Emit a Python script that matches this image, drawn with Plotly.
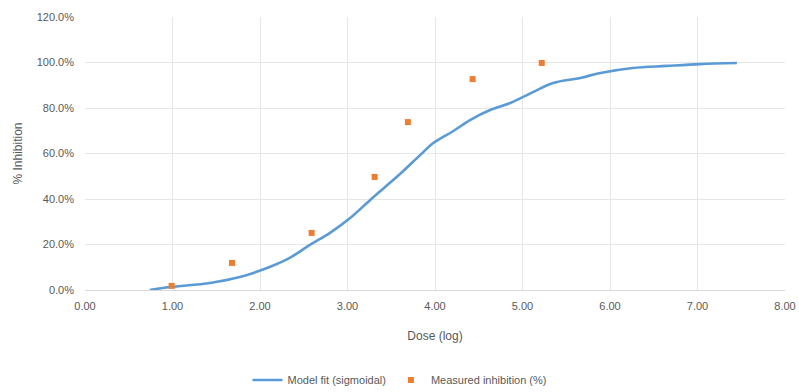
import plotly.graph_objects as go

# Fitted dose-response curve
fit_x = [0.74, 0.97, 1.43, 1.77, 2.11, 2.34, 2.57, 2.80, 3.03, 3.26, 3.43, 3.60, 3.83,
         3.98, 4.21, 4.40, 4.63, 4.86, 5.12, 5.35, 5.66, 5.89, 6.26, 6.65, 7.03, 7.45]
fit_y = [0.000, 0.013, 0.031, 0.057, 0.101, 0.141, 0.198, 0.251, 0.316, 0.396, 0.453, 0.510, 0.593,
         0.646, 0.699, 0.747, 0.791, 0.822, 0.870, 0.910, 0.932, 0.954, 0.976, 0.985, 0.993, 0.998]

# Measured responses
obs_x = [0.99, 1.68, 2.59, 3.31, 3.69, 4.43, 5.22]
obs_y = [0.018, 0.119, 0.251, 0.497, 0.738, 0.927, 0.998]

x_ticks = [0, 1, 2, 3, 4, 5, 6, 7, 8]
x_tick_labels = ["0.00", "1.00", "2.00", "3.00", "4.00", "5.00", "6.00", "7.00", "8.00"]
y_ticks = [0, 0.2, 0.4, 0.6, 0.8, 1.0, 1.2]

BLUE = "#5B9BD5"
ORANGE = "#ED7D31"
TEXT = "#595959"
GRID = "#e6e6e6"

fig = go.Figure()
fig.add_trace(go.Scatter(
    x=fit_x, y=fit_y, mode="lines", name="Model fit (sigmoidal)",
    line=dict(color=BLUE, width=2.6, shape="spline"),
))
fig.add_trace(go.Scatter(
    x=obs_x, y=obs_y, mode="markers", name="Measured inhibition (%)",
    marker=dict(color=ORANGE, symbol="square", size=6),
))

fig.update_layout(
    width=799, height=392,
    margin=dict(l=85, r=14, t=17, b=102, autoexpand=False),
    paper_bgcolor="white", plot_bgcolor="white",
    font=dict(family="Liberation Sans, Arial, sans-serif", size=11, color=TEXT),
    showlegend=True,
    legend=dict(orientation="h", xref="container", x=0.5, xanchor="center",
                yref="container", y=(392 - 380) / 392, yanchor="middle",
                itemwidth=30, font=dict(size=11, color=TEXT)),
)
fig.update_xaxes(
    range=[0, 8], tickvals=x_ticks, ticktext=x_tick_labels,
    showgrid=True, gridcolor=GRID, gridwidth=1,
    zeroline=False, showline=True, linecolor="#d9d9d9",
    ticks="", ticklabelstandoff=6, automargin=False,
    title=dict(text="Dose (log)", standoff=20, font=dict(size=12, color=TEXT)),
)
fig.update_yaxes(
    range=[0, 1.2], tickvals=y_ticks, tickformat=".1%",
    showgrid=True, gridcolor=GRID, gridwidth=1,
    zeroline=False, showline=False, ticks="", ticklabelstandoff=10, automargin=False,
    title=dict(text="% Inhibition", standoff=11, font=dict(size=12, color=TEXT)),
)

fig.write_html("out.html")
